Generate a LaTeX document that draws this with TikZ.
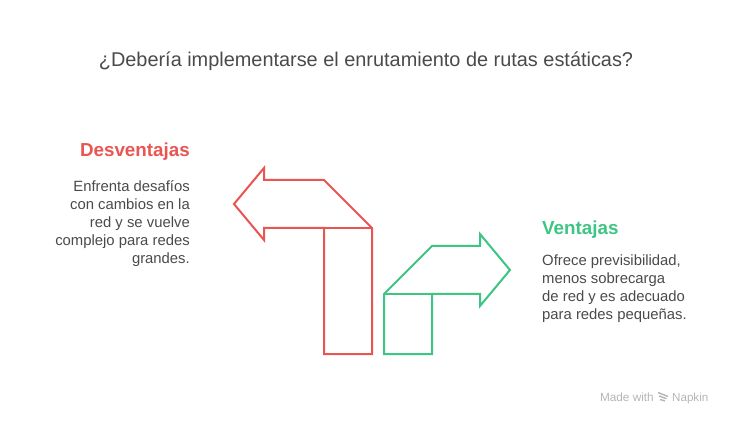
\documentclass[tikz,border=0pt]{standalone}
\usepackage{fontspec}
\setmainfont{Liberation Sans}
\definecolor{rojo}{HTML}{E85552}
\definecolor{verde}{HTML}{3CC583}
\definecolor{texto}{HTML}{4A4A4A}
\definecolor{marca}{HTML}{B5B5B5}
\tikzset{
    titulo/.style={texto,font=\fontsize{19.9}{24}\selectfont},
    cabecera/.style={font=\fontsize{18.8}{24}\selectfont\bfseries},
    cuerpo/.style={texto,font=\fontsize{14.85}{18}\selectfont},
    flecha/.style={line width=2pt,line join=miter}
}
\begin{document}
\begin{tikzpicture}[x=1pt,y=-1pt]
    \useasboundingbox (0,0) rectangle (732,425);

    % Pregunta arriba
    \node[titulo] (pregunta) at (366,61) {¿Debería implementarse el enrutamiento de rutas estáticas?};

    % Flecha roja
    \draw[flecha,rojo] (324,228) -- (324,354) -- (372,354) -- (372,228) -- (324,180)
        -- (264,180) -- (264,168) -- (234,204) -- (264,240) -- (264,228) -- cycle;
    \draw[flecha,rojo] (324,228) -- (372,228);

    % Flecha verde
    \draw[flecha,verde] (384,294) -- (384,354) -- (432,354) -- (432,294) -- (480,294)
        -- (480,306) -- (510,270) -- (480,234) -- (480,246) -- (432,246) -- cycle;
    \draw[flecha,verde] (384,294) -- (432,294);

    % Desventajas
    \node[cabecera,rojo,anchor=east,inner sep=0pt] (desventajas) at (190,151.7) {Desventajas};
    \node[cuerpo,anchor=north east,align=right,inner sep=0pt] (contras) at (190,180)
        {Enfrenta desafíos\\con cambios en la\\red y se vuelve\\complejo para redes\\grandes.};

    % Ventajas
    \node[cabecera,verde,anchor=west,inner sep=0pt] (ventajas) at (542,229.7) {Ventajas};
    \node[cuerpo,anchor=north west,align=left,inner sep=0pt] (pros) at (542,254.5)
        {Ofrece previsibilidad,\\menos sobrecarga\\de red y es adecuado\\para redes pequeñas.};

    % Marca abajo
    \node[marca,font=\fontsize{11.8}{13}\selectfont,anchor=base east,inner sep=0pt] (hecho) at (654,401.5) {Made with};
    \node[marca,font=\fontsize{11.6}{13}\selectfont,anchor=base west,inner sep=0pt] (napkin) at (672,401.5) {Napkin};
    \foreach \fila in {0,1,2} {
        \draw[marca,line width=1.4pt] (658+\fila,392.5+\fila*3.5) -- (668-\fila*1.5,396.5+\fila*2.2);
    }
\end{tikzpicture}
\end{document}
